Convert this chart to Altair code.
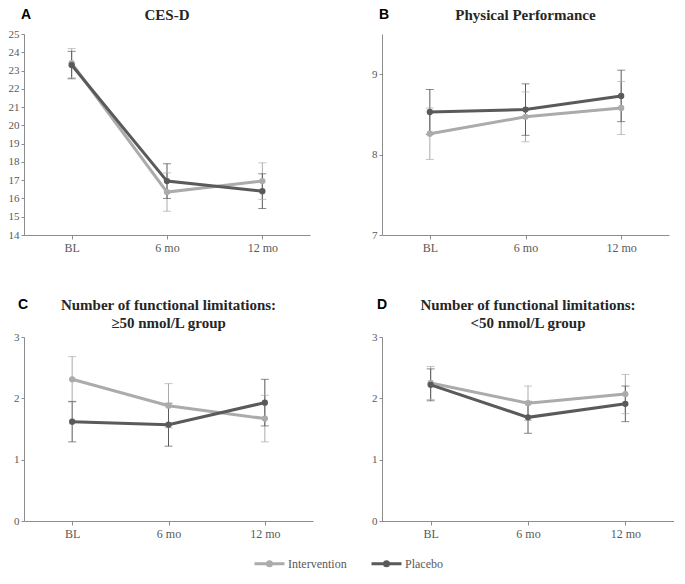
import altair as alt
import pandas as pd

cats = ["BL", "6 mo", "12 mo"]
groups = ["Intervention", "Placebo"]
colors = ["#ababab", "#5a5a5a"]

# Panel A: CES-D
a_int = [23.4, 16.35, 16.95]
a_int_err = [0.8, 1.05, 1.0]
a_pla = [23.3, 16.95, 16.4]
a_pla_err = [0.75, 0.95, 0.95]

# Panel B: Physical Performance
b_int = [8.26, 8.47, 8.58]
b_int_err = [0.32, 0.31, 0.33]
b_pla = [8.53, 8.56, 8.73]
b_pla_err = [0.28, 0.32, 0.32]

# Panel C: functional limitations, >=50 nmol/L
c_int = [2.31, 1.88, 1.67]
c_int_err = [0.37, 0.36, 0.38]
c_pla = [1.62, 1.57, 1.93]
c_pla_err = [0.33, 0.35, 0.38]

# Panel D: functional limitations, <50 nmol/L
d_int = [2.25, 1.92, 2.07]
d_int_err = [0.27, 0.28, 0.32]
d_pla = [2.22, 1.69, 1.91]
d_pla_err = [0.26, 0.26, 0.29]

a_title = ["CES-D"]
b_title = ["Physical Performance"]
c_title = ["Number of functional limitations:", "\u226550 nmol/L group"]
d_title = ["Number of functional limitations:", "<50 nmol/L group"]

SERIF = "Liberation Serif"
SANS = "Liberation Sans"

# colour scale for the marks (domain from the data, sorted: Intervention, Placebo)
color_scale = alt.Scale(range=colors)
# explicit scale for the legend channels
legend_scale = alt.Scale(domain=groups, range=colors)
LEG_PATH = "M-3,0L3,0M-0.4,0a0.4,0.4 0 1,0 0.8,0a0.4,0.4 0 1,0 -0.8,0"


def make_df(im, ie, pm, pe):
    rows = []
    for g, m, e in [(groups[0], im, ie), (groups[1], pm, pe)]:
        for c, mv, ev in zip(cats, m, e):
            rows.append({"cat": c, "group": g, "mean": mv, "lo": mv - ev, "hi": mv + ev})
    return pd.DataFrame(rows)


def leg():
    return alt.Legend(
        title=None, orient="none", legendX=239, legendY=523,
        direction="horizontal", symbolType=LEG_PATH, symbolSize=100,
        symbolStrokeWidth=3, symbolOpacity=1, labelFont=SERIF, labelFontSize=12,
        labelFontWeight="normal", labelColor="#595959", labelOffset=12,
        columnPadding=18)


def panel(df, dom, ticks, w, h, title, letter, tdy, ldx, ldy, legend=False, extend=False):
    xenc = alt.X("cat:N", sort=cats, scale=alt.Scale(type="point", padding=0.5),
                 axis=alt.Axis(title=None))
    ysc = alt.Scale(domain=dom, nice=False, zero=False)
    yax = alt.Axis(values=ticks, title=None)
    col = alt.Color("group:N", scale=color_scale, legend=None)
    base = alt.Chart(df)
    rule = base.mark_rule(strokeWidth=1).encode(
        x=xenc, y=alt.Y("lo:Q", scale=ysc, axis=yax), y2="hi:Q", color=col)
    cap_lo = base.mark_tick(orient="horizontal", size=8, thickness=1).encode(
        x=xenc, y=alt.Y("lo:Q", scale=ysc, axis=yax), color=col)
    cap_hi = base.mark_tick(orient="horizontal", size=8, thickness=1).encode(
        x=xenc, y=alt.Y("hi:Q", scale=ysc, axis=yax), color=col)
    line = base.mark_line(strokeWidth=3).encode(
        x=xenc, y=alt.Y("mean:Q", scale=ysc, axis=yax), color=col)
    pts = base.mark_circle(size=40, opacity=1).encode(
        x=xenc, y=alt.Y("mean:Q", scale=ysc, axis=yax), color=col)
    one = pd.DataFrame({"k": [0]})
    ttl = alt.Chart(one).mark_text(
        font=SERIF, fontSize=15, fontWeight="bold", color="#262626",
        align="center", baseline="alphabetic", lineHeight=18).encode(
        x=alt.value(w / 2), y=alt.value(tdy),
        text=alt.value(title if len(title) > 1 else title[0]))
    let = alt.Chart(one).mark_text(
        font=SANS, fontSize=14, fontWeight="bold", color="#000000",
        align="left", baseline="alphabetic").encode(
        x=alt.value(ldx), y=alt.value(ldy), text=alt.value(letter))
    layers = [rule, cap_lo, cap_hi, line, pts, ttl, let]
    if legend:
        lg = base.mark_point(
            filled=True, shape=LEG_PATH, strokeWidth=3, opacity=0).encode(
            x=xenc, y=alt.Y("mean:Q", scale=ysc, axis=yax),
            fill=alt.Fill("group:N", scale=legend_scale, legend=leg()),
            stroke=alt.Stroke("group:N", scale=legend_scale, legend=leg()))
        layers.append(lg)
    if extend:
        # invisible spacer so the page keeps room for the legend below the panels
        sp = alt.Chart(one).mark_rule(strokeOpacity=0).encode(
            x=alt.value(0), y=alt.value(h + 38), y2=alt.value(h + 45))
        layers.append(sp)
    return alt.layer(*layers).properties(width=w, height=h)


pa = panel(make_df(a_int, a_int_err, a_pla, a_pla_err), [14, 25], list(range(14, 26)),
           286, 201, a_title, "A", -14, -3, -15, legend=True)
pb = panel(make_df(b_int, b_int_err, b_pla, b_pla_err), [7, 9.5], [7, 8, 9],
           287, 201, b_title, "B", -14, -3, -15)
pc = panel(make_df(c_int, c_int_err, c_pla, c_pla_err), [0, 3], [0, 1, 2, 3],
           289, 184, c_title, "C", -27, -6, -28, extend=True)
pd_ = panel(make_df(d_int, d_int_err, d_pla, d_pla_err), [0, 3], [0, 1, 2, 3],
            292, 184, d_title, "D", -27, -5, -28)

chart = alt.concat(pa, pb, pc, pd_, columns=2,
                   spacing={"row": 45, "column": 58}).properties(
    padding=0
).configure_view(stroke=None).configure_axis(
    grid=False, domainColor="#8c8c8c", tickColor="#8c8c8c", labelColor="#595959",
    labelFont=SERIF, labelFontSize=11
).configure_axisX(labelFontSize=12, labelAngle=0, tickSize=4, labelPadding=3
).configure_axisY(tickSize=3, labelPadding=2)

chart.save("out.html", embed_options={"renderer": "svg", "actions": False})
